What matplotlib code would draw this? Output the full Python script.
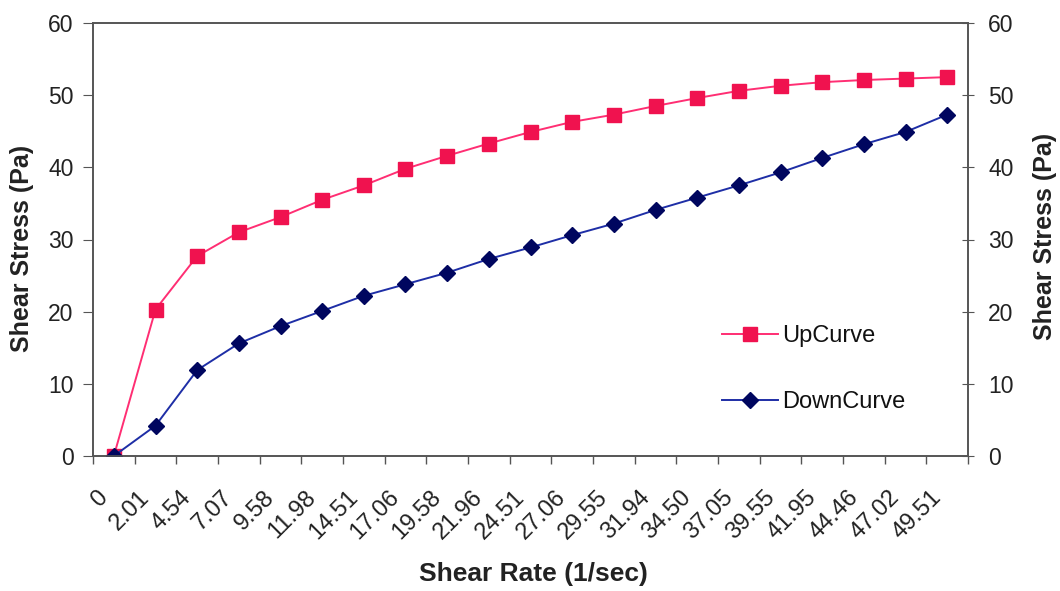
import numpy as np
import matplotlib
matplotlib.use("Agg")
import matplotlib.pyplot as plt
from matplotlib.transforms import ScaledTranslation

plt.rcParams['font.family'] = ['Liberation Sans', 'DejaVu Sans']

categories = ["0", "2.01", "4.54", "7.07", "9.58", "11.98", "14.51", "17.06", "19.58",
              "21.96", "24.51", "27.06", "29.55", "31.94", "34.50", "37.05", "39.55",
              "41.95", "44.46", "47.02", "49.51"]
up_curve = [0.0, 20.3, 27.7, 31.0, 33.1, 35.5, 37.5, 39.8, 41.6, 43.3, 44.9, 46.3,
            47.3, 48.5, 49.6, 50.6, 51.3, 51.8, 52.1, 52.3, 52.5]
down_curve = [0.0, 4.2, 11.9, 15.6, 18.0, 20.1, 22.2, 23.8, 25.4, 27.3, 28.9, 30.6,
              32.2, 34.1, 35.8, 37.5, 39.3, 41.3, 43.2, 44.9, 47.3]
y_ticks = [0, 10, 20, 30, 40, 50, 60]

W, H = 1060, 591
fig = plt.figure(figsize=(W / 100, H / 100), dpi=100)
fig.patch.set_facecolor('white')
ax = fig.add_axes([93 / W, 1 - 456 / H, (968 - 93) / W, (456 - 23) / H])

x = np.arange(len(categories))
frame_col = '#555555'
text_col = '#222222'

ax.plot(x, up_curve, color='#FF2E73', lw=1.4, marker='s', markersize=10,
        markerfacecolor='#F0124F', markeredgecolor='#F0124F', label='UpCurve', zorder=3)
ax.plot(x, down_curve, color='#1E2EA6', lw=1.4, marker='D', markersize=8,
        markerfacecolor='#00065F', markeredgecolor='#00065F', label='DownCurve', zorder=4)

ax.set_xlim(-0.5, len(categories) - 0.5)
ax.set_ylim(0, 60)
ax.set_yticks(y_ticks)
ax.set_yticklabels([str(v) for v in y_ticks])
ax.set_xticks(x)
ax.set_xticks(np.arange(len(categories) + 1) - 0.5, minor=True)
ax.set_xticklabels(categories, rotation=45, ha='right', va='top', rotation_mode='anchor')
ax.tick_params(axis='x', which='major', length=0, pad=22, labelsize=17, labelcolor=text_col)
ax.tick_params(axis='x', which='minor', length=6, direction='out', color=frame_col, width=1)
ax.tick_params(axis='y', length=7, direction='out', color=frame_col, pad=7,
               labelsize=16.5, labelcolor=text_col)
off = ScaledTranslation(-17 / 100, 0, fig.dpi_scale_trans)
for lab in ax.get_xticklabels():
    lab.set_transform(lab.get_transform() + off)

for sp in ax.spines.values():
    sp.set_color(frame_col)
    sp.set_linewidth(1.2)

ax2 = ax.twinx()
ax2.set_ylim(0, 60)
ax2.set_yticks(y_ticks)
ax2.set_yticklabels([str(v) for v in y_ticks])
ax2.tick_params(axis='y', length=9, direction='inout', color=frame_col, pad=10,
                labelsize=16.5, labelcolor=text_col)
for sp in ax2.spines.values():
    sp.set_color(frame_col)
    sp.set_linewidth(1.2)

fig.text(22 / W, 1 - 248 / H, 'Shear Stress (Pa)', rotation=90, ha='center', va='center',
         fontsize=18, fontweight='bold', color=text_col)
fig.text(1045 / W, 1 - 236 / H, 'Shear Stress (Pa)', rotation=90, ha='center', va='center',
         fontsize=18, fontweight='bold', color=text_col)
fig.text(533 / W, 1 - 574 / H, 'Shear Rate (1/sec)', ha='center', va='center',
         fontsize=19, fontweight='bold', color=text_col)

leg = ax.legend(loc='upper left', bbox_to_anchor=(710 / W, 1 - 313 / H),
                bbox_transform=fig.transFigure, frameon=False, fontsize=17,
                handlelength=2.4, handletextpad=0.15, labelspacing=1.88, borderpad=0)
for t in leg.get_texts():
    t.set_color('#111111')

fig.savefig('out.png', dpi=100, facecolor='white')
